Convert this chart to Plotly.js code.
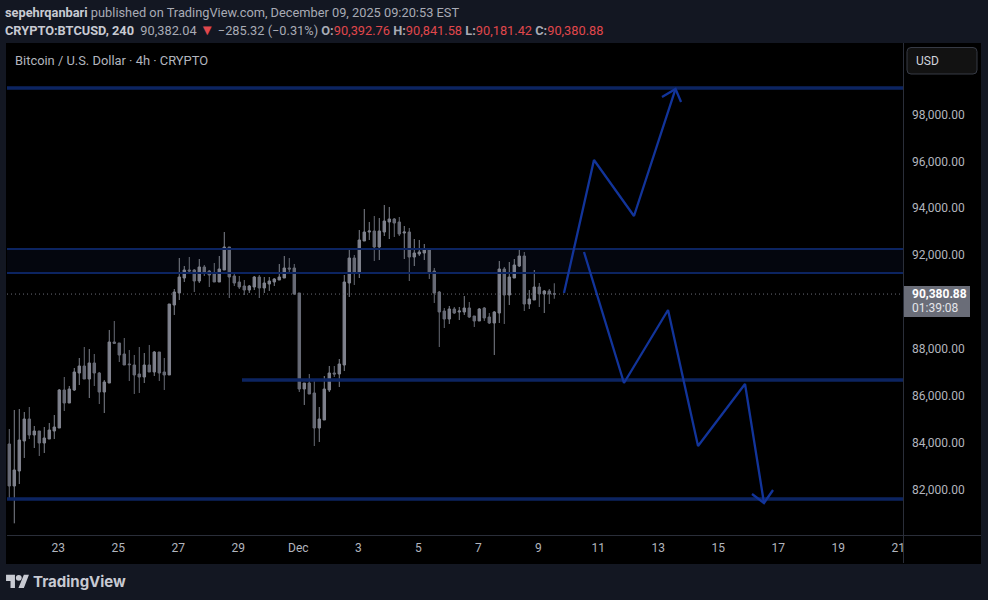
<!DOCTYPE html>
<html><head><meta charset="utf-8">
<script src="https://cdn.plot.ly/plotly-3.0.1.min.js"></script>
<style>html,body{margin:0;padding:0;background:#131722;overflow:hidden}#c{position:absolute;left:0;top:0;width:988px;height:600px}#logo{position:absolute;left:6px;top:574px}</style>
</head><body><div id="c"></div>
<svg id="logo" width="23" height="14" viewBox="0 0 36 22"><path fill="#c8cad2" d="M14 22H7V11H0V1h14v21zM28 22h-8.5L28 1h8L28 22z"/><circle cx="20" cy="6" r="4.6" fill="#c8cad2"/></svg>
<script>
var open_ = [83984,82192,82832,84112,85050,84368,84538,84026,84197,84538,84666,86288,85733,86288,87013,87312,86757,87440,87013,86202,86586,88336,88293,87824,87397,87354,86970,86842,87354,87056,87909,87056,86928,89914,90426,91066,91408,91408,90938,91536,91365,91237,90896,91408,92389,91152,90896,90725,90554,90682,91109,90640,90810,90896,90981,91066,91493,91493,90426,86330,86586,86160,84666,85008,86288,87013,86970,87354,90853,91920,91280,92645,93029,93072,92389,93029,93456,93584,93456,92986,93029,91962,92090,92133,92304,91365,90469,89658,89317,89744,89616,89616,89786,89445,89232,89786,89402,89146,89573,91450,90341,91066,91578,92005,89957,90128,90682,90384,90512,90392.76];
var high = [84624,85434,85477,85349,85562,84752,84538,84709,84880,85221,86330,86842,86458,87226,87653,88122,88037,87824,87056,86714,88848,89232,88293,88506,87994,87781,88122,87866,88208,87952,87909,87653,89957,90597,91920,91578,91962,91450,91877,91621,91408,91706,92005,93029,92389,91237,91152,90981,90768,91152,91194,91109,91109,91066,91664,92005,91920,91664,90426,86586,86970,86672,85562,86885,87312,87312,87610,91194,92304,92048,93114,94010,93456,93712,93626,94181,94096,93626,93669,93285,93200,92730,92688,92517,92304,91493,90512,89786,89872,89829,89829,90298,90042,89445,89786,89829,89573,89658,91792,91536,91749,91877,92346,92176,90554,91408,90853,90554,90597,90841.58];
var low = [81595,80599,82277,83387,84197,83813,83472,83600,84197,84197,84666,85392,85733,86245,86501,86757,85946,86458,85690,85306,86586,88250,87482,87354,86672,86117,86160,86586,87056,86885,86672,86288,86928,89488,90128,90896,91280,90469,90853,91152,90682,90896,90896,91408,90213,90725,90597,90341,90426,90554,90213,90426,90512,90725,90981,91066,91237,90341,86202,85648,86117,83898,84069,85008,86202,86842,86416,87098,90256,90768,91066,92645,92688,91792,91834,92858,92730,92816,92858,91877,90938,91578,92005,91834,91024,90000,88122,88933,89104,89530,89274,89488,89360,88976,89232,89232,89104,87781,89146,89104,89914,91066,91536,89658,89744,90128,89829,89573,89957,90181.42];
var close_ = [82192,82875,84154,85050,84368,84538,84026,84240,84581,84709,86288,85733,86330,87056,87312,86757,87440,87013,86202,86629,88336,88279,87781,87354,87369,86928,86842,87354,87056,87909,87013,86928,89957,90469,91109,91408,91365,90938,91536,91322,91194,90896,91450,92389,91109,90853,90682,90554,90725,91109,90640,90853,90938,91024,91109,91493,91450,90384,86330,86586,86117,84666,85050,86330,87013,86970,87397,90896,91920,91280,92688,93029,93072,92389,93072,93498,93584,93413,92944,93029,91962,92133,92176,92304,91322,90426,89616,89317,89744,89573,89658,89786,89402,89232,89744,89360,89146,89616,91450,90341,91109,91621,92005,89957,90170,90682,90384,90512,90384,90380.88];
var firstCandle = Date.UTC(2025,10,21,8);
var fourHours = 4*3600*1000;
function iso(t){return new Date(t).toISOString().slice(0,16).replace('T',' ');}
var times = open_.map(function(_,i){return iso(firstCandle+i*fourHours);});

var xRange = ['2025-11-21 06:10','2025-12-21 02:58'];
var yRange = [80101,101093];
var tickDates = ['2025-11-23','2025-11-25','2025-11-27','2025-11-29','2025-12-01','2025-12-03','2025-12-05','2025-12-07','2025-12-09','2025-12-11','2025-12-13','2025-12-15','2025-12-17','2025-12-19','2025-12-21'];
var tickDays = ['23','25','27','29','Dec','3','5','7','9','11','13','15','17','19','21'];
var priceTicks = [82000,84000,86000,88000,92000,94000,96000,98000];
var priceLabels = ['82,000.00','84,000.00','86,000.00','88,000.00','92,000.00','94,000.00','96,000.00','98,000.00'];

var topLevel = 99173, bandHigh = 92304, bandLow = 91280, midLevel = 86714, bottomLevel = 81637;
var lastPrice = 90380.88;
var midStart = '2025-11-29 02:10';

var upX = ['2025-12-09 19:45','2025-12-10 19:45','2025-12-12 03:45','2025-12-13 13:00'];
var upY = [90427,96101,93712,99131];
var upHeadX = ['2025-12-13 02:10','2025-12-13 13:00','2025-12-13 17:25'];
var upHeadY = [98789,99131,98576];
var downX = ['2025-12-10 11:45','2025-12-11 19:45','2025-12-13 07:00','2025-12-14 07:00','2025-12-15 20:35','2025-12-16 11:45'];
var downY = [92176,86587,89701,83899,86544,81466];
var downHeadX = ['2025-12-16 02:10','2025-12-16 11:45','2025-12-16 19:00'];
var downHeadY = [81851,81466,82021];

var NAVY = '#0c2461', BLUE = '#12349a', GREY = '#787b86';
function level(x0, y, w){return {type:'scatter',mode:'lines',x:[x0,xRange[1]],y:[y,y],line:{color:NAVY,width:w,shape:'linear'},hoverinfo:'skip',showlegend:false};}
function path(x,y){return {type:'scatter',mode:'lines',x:x,y:y,line:{color:BLUE,width:2.3},hoverinfo:'skip',showlegend:false};}

var traces = [
 level(xRange[0],topLevel,3.5), level(xRange[0],bandHigh,2), level(xRange[0],bandLow,2),
 level(midStart,midLevel,3.5), level(xRange[0],bottomLevel,3.5),
 {type:'scatter',mode:'lines',x:xRange,y:[lastPrice,lastPrice],line:{color:'#6a6d78',width:1,dash:'1px 3px'},hoverinfo:'skip',showlegend:false},
 {type:'candlestick',x:times,open:open_,high:high,low:low,close:close_,
  increasing:{line:{color:'#7f828d',width:1},fillcolor:'#7f828d'},
  decreasing:{line:{color:'#686b76',width:1},fillcolor:'#686b76'},showlegend:false,hoverinfo:'skip'},
 path(upX,upY),path(upHeadX,upHeadY),path(downX,downY),path(downHeadX,downHeadY)
];

var W=988,H=600,L=7,R=903,T=43,B=535;
function px(x){return (x-L)/(R-L);}
function py(y){return (B-y)/(B-T);}
function note(x,y,text,size,color,anchor,font){return {xref:'paper',yref:'paper',x:px(x),y:py(y),text:text,showarrow:false,xanchor:anchor||'left',yanchor:'middle',font:{size:size,color:color,family:font||'Roboto, sans-serif'},align:'left'};}
function rounded(x0,y0,x1,y1,r){
 var a=px(x0),b=px(x1),c=py(y0),d=py(y1),rx=r/(R-L),ry=r/(B-T);
 return 'M'+(a+rx)+','+c+' L'+(b-rx)+','+c+' Q'+b+','+c+' '+b+','+(c-ry)+' L'+b+','+(d+ry)+' Q'+b+','+d+' '+(b-rx)+','+d+' L'+(a+rx)+','+d+' Q'+a+','+d+' '+a+','+(d+ry)+' L'+a+','+(c-ry)+' Q'+a+','+c+' '+(a+rx)+','+c+' Z';
}
var RED='#e0474c', DIM='#a8abb5';
var layout = {
 width:W,height:H,margin:{l:L,r:W-R,t:T,b:H-B,pad:0},
 paper_bgcolor:'#131722',plot_bgcolor:'#000000',showlegend:false,dragmode:false,
 xaxis:{type:'date',range:xRange,tickmode:'array',tickvals:tickDates,ticktext:tickDays,showgrid:false,zeroline:false,ticks:'',rangeslider:{visible:false},
   showline:false,tickfont:{size:12,color:'#b2b5be',family:'Roboto, sans-serif'},ticklabeloverflow:'allow',ticklabelstandoff:4,ticklabelshift:-1},
 yaxis:{range:yRange,side:'right',tickmode:'array',tickvals:priceTicks,ticktext:priceLabels,showgrid:false,zeroline:false,ticks:'',
   showline:false,tickfont:{size:12,color:'#b2b5be',family:'Roboto, sans-serif'},ticklabelstandoff:8,ticklabelshift:-1},
 shapes:[
  {type:'rect',xref:'paper',yref:'paper',x0:px(6),x1:px(981),y0:py(43),y1:py(564),fillcolor:'#000000',line:{width:0},layer:'below'},
  {type:'rect',xref:'paper',yref:'y',x0:0,x1:1,y0:bandLow,y1:bandHigh,fillcolor:'#04060e',line:{width:0},layer:'below'},
  {type:'line',xref:'paper',yref:'paper',x0:px(7),x1:px(981),y0:py(535.5),y1:py(535.5),line:{color:'#2a2e39',width:1},layer:'above'},
  {type:'line',xref:'paper',yref:'paper',x0:px(903.5),x1:px(903.5),y0:py(43),y1:py(563),line:{color:'#2a2e39',width:1},layer:'above'},
  {type:'rect',xref:'paper',yref:'paper',x0:px(904),x1:px(970),y0:py(286),y1:py(317),fillcolor:'#6a6d78',line:{width:0},layer:'above'},
  {type:'path',xref:'paper',yref:'paper',path:rounded(907,47.5,977,74,4),fillcolor:'#121212',line:{color:'#363a45',width:1},layer:'above'}
 ],
 annotations:[
  note(3,12,'<b style="color:#c8cad2">sepehrqanbari</b> published on TradingView.com, December 09, 2025 09:20:53 EST',12.8,DIM),
  note(3,30,'<b style="color:#c8cad2">CRYPTO:BTCUSD, 240</b>  90,382.04 <span style="color:'+RED+';font-size:15px">▼</span> −285.32 (−0.31%) <b>O:</b><span style="color:'+RED+'">90,392.76</span> <b>H:</b><span style="color:'+RED+'">90,841.58</span> <b>L:</b><span style="color:'+RED+'">90,181.42</span> <b>C:</b><span style="color:'+RED+'">90,380.88</span>',12.8,DIM),
  note(13,60,'Bitcoin / U.S. Dollar · 4h · CRYPTO',12.9,'#b2b5be'),
  note(914,61,'USD',12,'#d1d4dc'),
  note(910,293.5,'<b>90,380.88</b>',12,'#ffffff'),
  note(910,307.5,'01:39:08',12,'#e4e5ea'),
  note(31,581,'<b>TradingView</b>',15,'#c8cad2','left','Inter, sans-serif')
 ]
};
Plotly.newPlot('c',traces,layout,{staticPlot:true,displayModeBar:false});
</script></body></html>
